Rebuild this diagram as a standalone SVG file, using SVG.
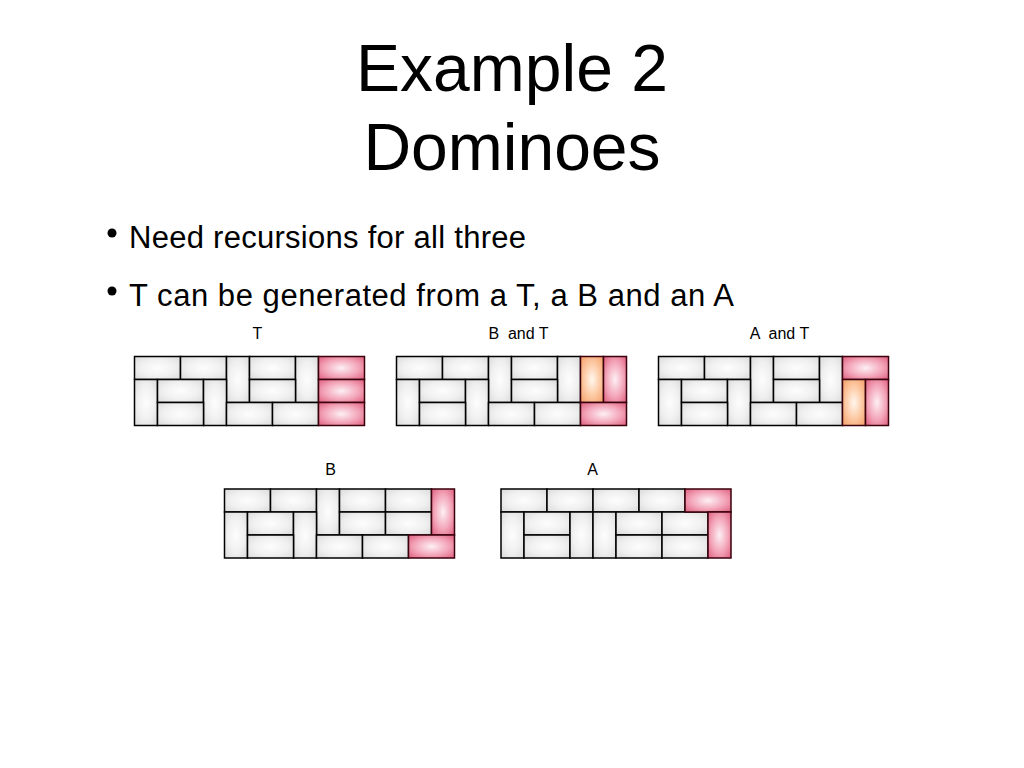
<svg xmlns="http://www.w3.org/2000/svg" xmlns:xlink="http://www.w3.org/1999/xlink" width="1024" height="768" viewBox="0 0 1024 768">
<defs>
<radialGradient id="gGray" cx="0.5" cy="0.5" r="0.75">
<stop offset="0" stop-color="#fdfdfd"/>
<stop offset="0.5" stop-color="#f0f0f0"/>
<stop offset="1" stop-color="#d6d6d6"/>
</radialGradient>
<radialGradient id="gRed" cx="0.5" cy="0.5" r="0.75">
<stop offset="0" stop-color="#fdf0f4"/>
<stop offset="0.5" stop-color="#f3a6ba"/>
<stop offset="1" stop-color="#dc5274"/>
</radialGradient>
<radialGradient id="gOrg" cx="0.5" cy="0.5" r="0.75">
<stop offset="0" stop-color="#fff7ee"/>
<stop offset="0.5" stop-color="#fcc7a0"/>
<stop offset="1" stop-color="#f3975c"/>
</radialGradient>
<g id="leftPart">
<rect class="g" x="0" y="0" width="46" height="23"/>
<rect class="g" x="46" y="0" width="46" height="23"/>
<rect class="g" x="92" y="0" width="23" height="46"/>
<rect class="g" x="115" y="0" width="46" height="23"/>
<rect class="g" x="161" y="0" width="23" height="46"/>
<rect class="g" x="0" y="23" width="23" height="46"/>
<rect class="g" x="23" y="23" width="46" height="23"/>
<rect class="g" x="69" y="23" width="23" height="46"/>
<rect class="g" x="115" y="23" width="46" height="23"/>
<rect class="g" x="23" y="46" width="46" height="23"/>
<rect class="g" x="92" y="46" width="46" height="23"/>
<rect class="g" x="138" y="46" width="46" height="23"/>
</g>
</defs>
<style>
.title{font-family:"Liberation Sans",Arial,sans-serif;font-size:66px;fill:#000;text-anchor:middle}
.bul{font-family:"Liberation Sans",Arial,sans-serif;font-size:31px;fill:#000}
.lbl{font-family:"Liberation Sans",Arial,sans-serif;font-size:16px;fill:#000;text-anchor:middle;white-space:pre}
.g{fill:url(#gGray);stroke:#000;stroke-width:1.5}
.r{fill:url(#gRed);stroke:#3a000c;stroke-width:1.5}
.o{fill:url(#gOrg);stroke:#3a000c;stroke-width:1.5}
</style>
<rect x="0" y="0" width="1024" height="768" fill="#fff"/>
<g id="title">
<text class="title" x="512" y="91">Example 2</text>
<text class="title" x="512" y="170">Dominoes</text>
</g>
<g id="bullets">
<circle cx="112" cy="233" r="4.5" fill="#000"/>
<text class="bul" x="129" y="248" textLength="397" lengthAdjust="spacing">Need recursions for all three</text>
<circle cx="112" cy="291" r="4.5" fill="#000"/>
<text class="bul" x="129" y="306" textLength="605" lengthAdjust="spacing">T can be generated from a T, a B and an A</text>
</g>
<g id="gridT" transform="translate(134.5,356.5)">
<text class="lbl" x="123" y="-17.5">T</text>
<use xlink:href="#leftPart" href="#leftPart"/>
<rect class="r" x="184" y="0" width="46" height="23"/>
<rect class="r" x="184" y="23" width="46" height="23"/>
<rect class="r" x="184" y="46" width="46" height="23"/>
</g>
<g id="gridBT" transform="translate(396.5,356.5)">
<text class="lbl" x="122" y="-17.5">B  and T</text>
<use xlink:href="#leftPart" href="#leftPart"/>
<rect class="o" x="184" y="0" width="23" height="46"/>
<rect class="r" x="207" y="0" width="23" height="46"/>
<rect class="r" x="184" y="46" width="46" height="23"/>
</g>
<g id="gridAT" transform="translate(658.5,356.5)">
<text class="lbl" x="121" y="-17.5">A  and T</text>
<use xlink:href="#leftPart" href="#leftPart"/>
<rect class="r" x="184" y="0" width="46" height="23"/>
<rect class="o" x="184" y="23" width="23" height="46"/>
<rect class="r" x="207" y="23" width="23" height="46"/>
</g>
<g id="gridB" transform="translate(224.5,489)">
<text class="lbl" x="106" y="-14.5">B</text>
<rect class="g" x="0" y="0" width="46" height="23"/>
<rect class="g" x="46" y="0" width="46" height="23"/>
<rect class="g" x="92" y="0" width="23" height="46"/>
<rect class="g" x="115" y="0" width="46" height="23"/>
<rect class="g" x="161" y="0" width="46" height="23"/>
<rect class="g" x="0" y="23" width="23" height="46"/>
<rect class="g" x="23" y="23" width="46" height="23"/>
<rect class="g" x="69" y="23" width="23" height="46"/>
<rect class="g" x="115" y="23" width="46" height="23"/>
<rect class="g" x="161" y="23" width="46" height="23"/>
<rect class="g" x="23" y="46" width="46" height="23"/>
<rect class="g" x="92" y="46" width="46" height="23"/>
<rect class="g" x="138" y="46" width="46" height="23"/>
<rect class="r" x="207" y="0" width="23" height="46"/>
<rect class="r" x="184" y="46" width="46" height="23"/>
</g>
<g id="gridA" transform="translate(501,489)">
<text class="lbl" x="91.5" y="-14.5">A</text>
<rect class="g" x="0" y="0" width="46" height="23"/>
<rect class="g" x="46" y="0" width="46" height="23"/>
<rect class="g" x="92" y="0" width="46" height="23"/>
<rect class="g" x="138" y="0" width="46" height="23"/>
<rect class="g" x="0" y="23" width="23" height="46"/>
<rect class="g" x="23" y="23" width="46" height="23"/>
<rect class="g" x="23" y="46" width="46" height="23"/>
<rect class="g" x="69" y="23" width="23" height="46"/>
<rect class="g" x="92" y="23" width="23" height="46"/>
<rect class="g" x="115" y="23" width="46" height="23"/>
<rect class="g" x="161" y="23" width="46" height="23"/>
<rect class="g" x="115" y="46" width="46" height="23"/>
<rect class="g" x="161" y="46" width="46" height="23"/>
<rect class="r" x="184" y="0" width="46" height="23"/>
<rect class="r" x="207" y="23" width="23" height="46"/>
</g>
</svg>
